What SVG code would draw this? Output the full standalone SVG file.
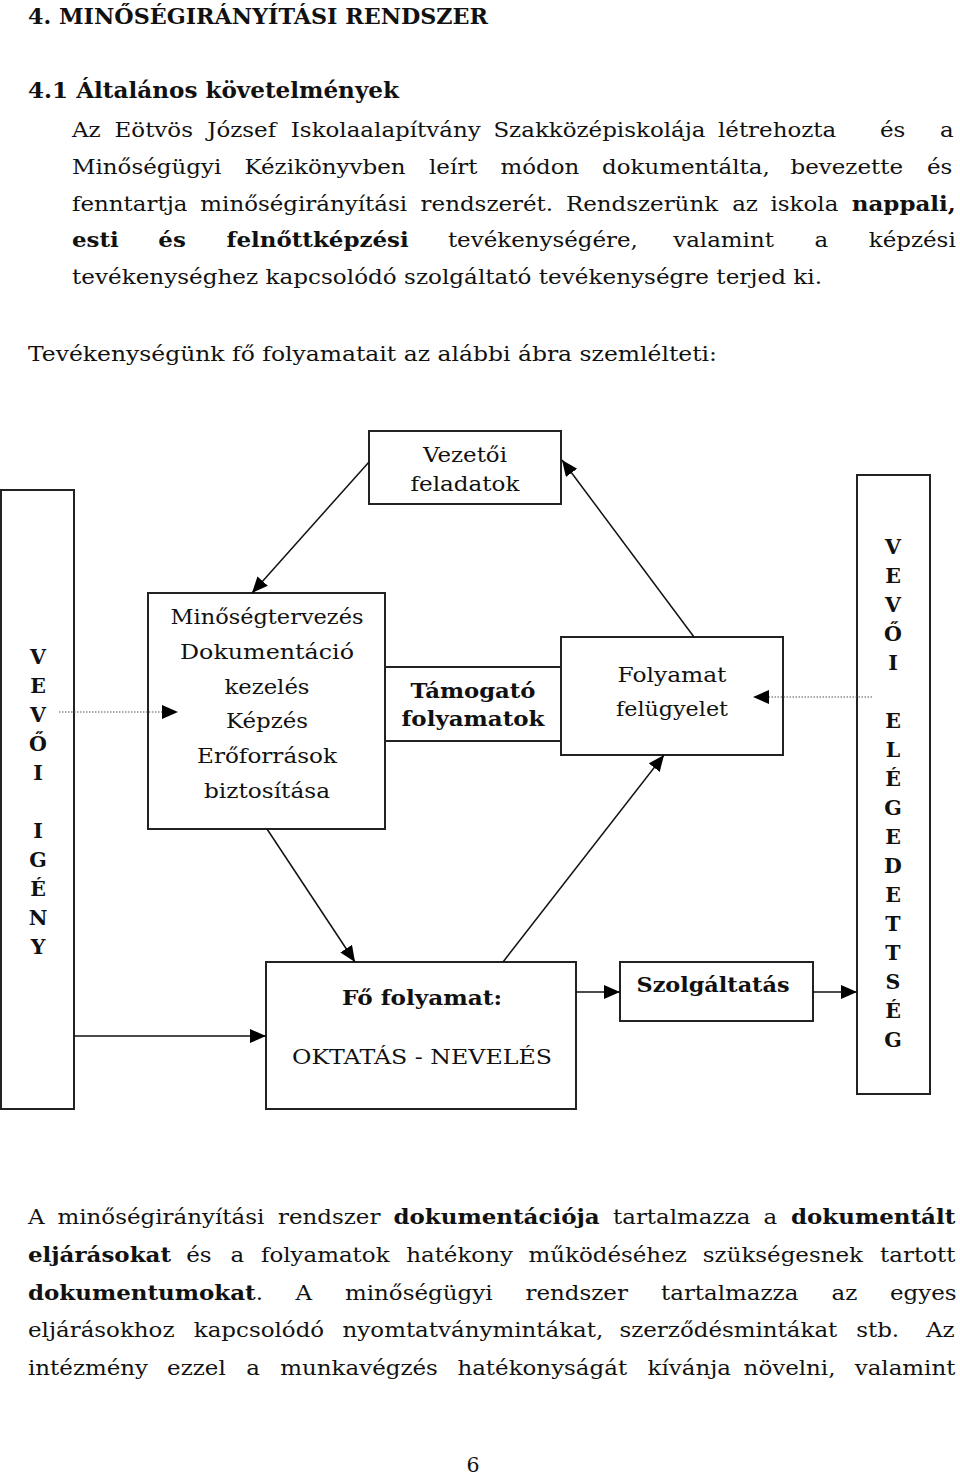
<svg xmlns="http://www.w3.org/2000/svg" width="960" height="1475" viewBox="0 0 960 1475">
<style>
text{font-family:"DejaVu Serif","Liberation Serif",serif;fill:#111}
.h{font-size:22px;font-weight:bold}
.p{font-size:20.5px}
.b{font-weight:bold}
.d{font-size:21px;text-anchor:middle}
.v{font-size:20.5px;font-weight:bold;text-anchor:middle}
.box{fill:#fff;stroke:#222;stroke-width:2}
.con{stroke:#111;stroke-width:1.5;fill:none}
.dot{stroke:#555;stroke-width:1.2;stroke-dasharray:1.5 1.5;fill:none}
</style>
<defs>
<marker id="ah" markerUnits="userSpaceOnUse" markerWidth="18" markerHeight="16" refX="16" refY="7" orient="auto">
<path d="M0,0 L16,7 L0,14 z" fill="#000"/>
</marker>
</defs>
<rect width="960" height="1475" fill="#fff"/>

<text class="h" x="28" y="24" textLength="460" lengthAdjust="spacingAndGlyphs">4. MINŐSÉGIRÁNYÍTÁSI RENDSZER</text>
<text class="h" x="28" y="98" textLength="371" lengthAdjust="spacingAndGlyphs">4.1 Általános követelmények</text>

<g transform="scale(1.12 1)">
<text class="p" y="137"><tspan x="64.29">Az</tspan><tspan x="102.32">Eötvös</tspan><tspan x="185">József</tspan><tspan x="259.64">Iskolaalapítvány</tspan><tspan x="440.54">Szakközépiskolája</tspan><tspan x="641.07">létrehozta</tspan><tspan x="785.71">és</tspan><tspan x="839.29">a</tspan></text>
<text class="p" y="174"><tspan x="64.29">Minőségügyi</tspan><tspan x="218.3">Kézikönyvben</tspan><tspan x="383.04">leírt</tspan><tspan x="446.88">módon</tspan><tspan x="537.5">dokumentálta,</tspan><tspan x="705.8">bevezette</tspan><tspan x="827.68">és</tspan></text>
<text class="p" y="211"><tspan x="64.29">fenntartja</tspan><tspan x="178.84">minőségirányítási</tspan><tspan x="375.54">rendszerét.</tspan><tspan x="505.27">Rendszerünk</tspan><tspan x="653.75">az</tspan><tspan x="687.95">iskola</tspan><tspan x="760.54" class="b">nappali,</tspan></text>
<text class="p" y="247"><tspan x="64.29" class="b">esti</tspan><tspan x="141.34" class="b">és</tspan><tspan x="202.32" class="b">felnőttképzési</tspan><tspan x="399.91">tevékenységére,</tspan><tspan x="601.07">valamint</tspan><tspan x="727.23">a</tspan><tspan x="775.71">képzési</tspan></text>
</g>
<text class="p" x="72" y="284" textLength="750" lengthAdjust="spacingAndGlyphs">tevékenységhez kapcsolódó szolgáltató tevékenységre terjed ki.</text>

<text class="p" x="28" y="361" textLength="689" lengthAdjust="spacingAndGlyphs">Tevékenységünk fő folyamatait az alábbi ábra szemlélteti:</text>

<g id="vevoi-igeny">
<rect class="box" x="1" y="490" width="73" height="619"/>
<text class="v" x="38" y="664">V</text>
<text class="v" x="38" y="693">E</text>
<text class="v" x="38" y="722">V</text>
<text class="v" x="38" y="751">Ő</text>
<text class="v" x="38" y="780">I</text>
<text class="v" x="38" y="838">I</text>
<text class="v" x="38" y="867">G</text>
<text class="v" x="38" y="896">É</text>
<text class="v" x="38" y="925">N</text>
<text class="v" x="38" y="954">Y</text>
</g>

<g id="vezetoi">
<rect class="box" x="369" y="431" width="192" height="73"/>
<text class="d" x="465" y="462" textLength="84" lengthAdjust="spacingAndGlyphs">Vezetői</text>
<text class="d" x="465" y="491" textLength="109" lengthAdjust="spacingAndGlyphs">feladatok</text>
</g>

<g id="tamogato">
<rect class="box" x="385" y="667" width="176" height="74"/>
<text class="d b" x="473" y="698" textLength="125" lengthAdjust="spacingAndGlyphs">Támogató</text>
<text class="d b" x="473" y="726" textLength="143" lengthAdjust="spacingAndGlyphs">folyamatok</text>
</g>

<g id="minoseg">
<rect class="box" x="148" y="593" width="237" height="236"/>
<text class="d" x="267" y="624" textLength="193" lengthAdjust="spacingAndGlyphs">Minőségtervezés</text>
<text class="d" x="267" y="659" textLength="174" lengthAdjust="spacingAndGlyphs">Dokumentáció</text>
<text class="d" x="267" y="694" textLength="85" lengthAdjust="spacingAndGlyphs">kezelés</text>
<text class="d" x="267" y="728" textLength="82" lengthAdjust="spacingAndGlyphs">Képzés</text>
<text class="d" x="267" y="763" textLength="140" lengthAdjust="spacingAndGlyphs">Erőforrások</text>
<text class="d" x="267" y="798" textLength="126" lengthAdjust="spacingAndGlyphs">biztosítása</text>
</g>

<g id="felugyelet">
<rect class="box" x="561" y="637" width="222" height="118"/>
<text class="d" x="672" y="682" textLength="109" lengthAdjust="spacingAndGlyphs">Folyamat</text>
<text class="d" x="672" y="716" textLength="112" lengthAdjust="spacingAndGlyphs">felügyelet</text>
</g>

<g id="vevoi-elegedettseg">
<rect class="box" x="857" y="475" width="73" height="619"/>
<text class="v" x="893" y="554">V</text>
<text class="v" x="893" y="583">E</text>
<text class="v" x="893" y="612">V</text>
<text class="v" x="893" y="641">Ő</text>
<text class="v" x="893" y="670">I</text>
<text class="v" x="893" y="728">E</text>
<text class="v" x="893" y="757">L</text>
<text class="v" x="893" y="786">É</text>
<text class="v" x="893" y="815">G</text>
<text class="v" x="893" y="844">E</text>
<text class="v" x="893" y="873">D</text>
<text class="v" x="893" y="902">E</text>
<text class="v" x="893" y="931">T</text>
<text class="v" x="893" y="960">T</text>
<text class="v" x="893" y="989">S</text>
<text class="v" x="893" y="1018">É</text>
<text class="v" x="893" y="1047">G</text>
</g>

<g id="fo-folyamat">
<rect class="box" x="266" y="962" width="310" height="147"/>
<text class="d b" x="422" y="1005" textLength="160" lengthAdjust="spacingAndGlyphs">Fő folyamat:</text>
<text class="d" x="422" y="1064" textLength="260" lengthAdjust="spacingAndGlyphs">OKTATÁS - NEVELÉS</text>
</g>

<g id="szolgaltatas">
<rect class="box" x="620" y="962" width="193" height="59"/>
<text class="d b" x="713" y="992" textLength="153" lengthAdjust="spacingAndGlyphs">Szolgáltatás</text>
</g>

<g id="connectors">
<line class="con" x1="369" y1="462" x2="252" y2="593" marker-end="url(#ah)"/>
<line class="con" x1="694" y1="637" x2="562" y2="460" marker-end="url(#ah)"/>
<line class="con" x1="503" y1="962" x2="664" y2="755" marker-end="url(#ah)"/>
<line class="con" x1="267" y1="829" x2="355" y2="962" marker-end="url(#ah)"/>
<line class="con" x1="576" y1="992" x2="620" y2="992" marker-end="url(#ah)"/>
<line class="con" x1="813" y1="992" x2="857" y2="992" marker-end="url(#ah)"/>
<line class="con" x1="74" y1="1036" x2="266" y2="1036" marker-end="url(#ah)"/>
<line class="dot" x1="59" y1="712" x2="165" y2="712"/>
<path d="M162,705 L178,712 L162,719 z" fill="#000"/>
<line class="dot" x1="872" y1="697" x2="766" y2="697"/>
<path d="M769,690 L753,697 L769,704 z" fill="#000"/>
</g>

<g transform="scale(1.12 1)">
<text class="p" y="1224"><tspan x="25">A</tspan><tspan x="51.34">minőségirányítási</tspan><tspan x="248.21">rendszer</tspan><tspan x="351.34" class="b">dokumentációja</tspan><tspan x="547.32">tartalmazza</tspan><tspan x="681.7">a</tspan><tspan x="706.25" class="b">dokumentált</tspan></text>
<text class="p" y="1262"><tspan x="25" class="b">eljárásokat</tspan><tspan x="166.34">és</tspan><tspan x="205.89">a</tspan><tspan x="232.95">folyamatok</tspan><tspan x="362.68">hatékony</tspan><tspan x="471.88">működéséhez</tspan><tspan x="627.5">szükségesnek</tspan><tspan x="785.8">tartott</tspan></text>
<text class="p" y="1300"><tspan x="25" class="b">dokumentumokat</tspan><tspan>.</tspan><tspan x="263.84">A</tspan><tspan x="308.04">minőségügyi</tspan><tspan x="469.2">rendszer</tspan><tspan x="590.18">tartalmazza</tspan><tspan x="742.41">az</tspan><tspan x="794.64">egyes</tspan></text>
<text class="p" y="1337"><tspan x="25">eljárásokhoz</tspan><tspan x="173.04">kapcsolódó</tspan><tspan x="305.89">nyomtatványmintákat,</tspan><tspan x="553.04">szerződésmintákat</tspan><tspan x="764.46">stb.</tspan><tspan x="826.79">Az</tspan></text>
<text class="p" y="1375"><tspan x="25">intézmény</tspan><tspan x="149.2">ezzel</tspan><tspan x="219.82">a</tspan><tspan x="250.27">munkavégzés</tspan><tspan x="408.39">hatékonyságát</tspan><tspan x="578.13">kívánja</tspan><tspan x="663.93">növelni,</tspan><tspan x="763.13">valamint</tspan></text>
</g>

<text class="p" x="473" y="1472" text-anchor="middle">6</text>
</svg>
